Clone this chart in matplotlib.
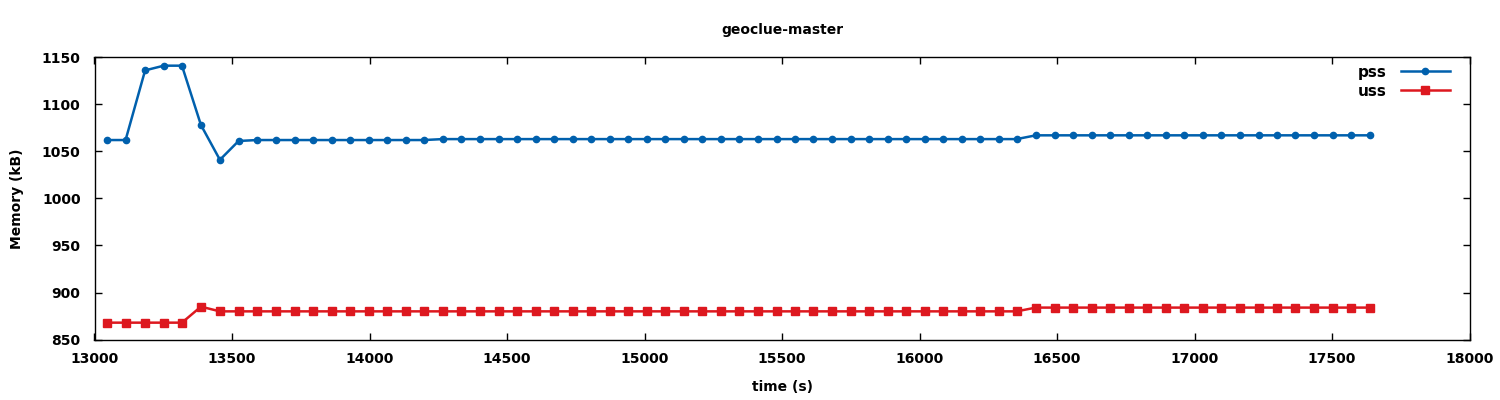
import matplotlib
matplotlib.use("Agg")
import matplotlib.pyplot as plt

# temps des mesures (s)
time_s = [13044, 13113, 13184, 13252, 13318, 13387, 13456, 13524, 13591, 13660,
          13729, 13795, 13864, 13929, 13997, 14064, 14133, 14198, 14266, 14332,
          14401, 14470, 14535, 14604, 14670, 14739, 14804, 14873, 14940, 15008,
          15075, 15143, 15209, 15277, 15344, 15412, 15481, 15547, 15614, 15682,
          15750, 15816, 15885, 15952, 16020, 16085, 16155, 16220, 16288, 16353,
          16423, 16493, 16558, 16627, 16693, 16761, 16827, 16895, 16962, 17030,
          17096, 17164, 17233, 17300, 17365, 17433, 17503, 17568, 17638]

pss = [1062, 1062, 1136, 1141, 1141, 1078, 1041, 1061, 1062, 1062,
       1062, 1062, 1062, 1062, 1062, 1062, 1062, 1062, 1063, 1063,
       1063, 1063, 1063, 1063, 1063, 1063, 1063, 1063, 1063, 1063,
       1063, 1063, 1063, 1063, 1063, 1063, 1063, 1063, 1063, 1063,
       1063, 1063, 1063, 1063, 1063, 1063, 1063, 1063, 1063, 1063,
       1067, 1067, 1067, 1067, 1067, 1067, 1067, 1067, 1067, 1067,
       1067, 1067, 1067, 1067, 1067, 1067, 1067, 1067, 1067]

uss = [868, 868, 868, 868, 868, 885, 880, 880, 880, 880,
       880, 880, 880, 880, 880, 880, 880, 880, 880, 880,
       880, 880, 880, 880, 880, 880, 880, 880, 880, 880,
       880, 880, 880, 880, 880, 880, 880, 880, 880, 880,
       880, 880, 880, 880, 880, 880, 880, 880, 880, 880,
       884, 884, 884, 884, 884, 884, 884, 884, 884, 884,
       884, 884, 884, 884, 884, 884, 884, 884, 884]

plt.rcParams['font.family'] = 'DejaVu Sans'
plt.rcParams['font.weight'] = 'bold'
plt.rcParams['font.size'] = 10

fig = plt.figure(figsize=(15, 4), dpi=100)
ax = fig.add_axes([0.063, 0.151, 0.9167, 0.706])

ax.plot(time_s, pss, color="#0060ad", linewidth=1.8, marker='o', markersize=4.5, label="pss")
ax.plot(time_s, uss, color="#dd181f", linewidth=1.8, marker='s', markersize=5.5, label="uss")

ax.set_xlim(13000, 18000)
ax.set_ylim(850, 1150)
ax.set_xticks(range(13000, 18001, 500))
ax.set_yticks(range(850, 1151, 50))

ax.tick_params(direction='in', length=5, width=1, top=True, right=True, labelsize=10)
ax.tick_params(axis='x', pad=9)
ax.tick_params(axis='y', pad=10)
for s in ax.spines.values():
    s.set_linewidth(1)

ax.set_xlabel("time (s)", fontsize=10, fontweight='bold', labelpad=10)
ax.set_ylabel("Memory (kB)", fontsize=10, fontweight='bold', labelpad=13)
ax.set_title("geoclue-master", fontsize=10, fontweight='bold', pad=17)

ax.legend(loc='upper right', bbox_to_anchor=(0.991, 1.0), frameon=False,
          markerfirst=False, handlelength=3.2, fontsize=11, borderaxespad=0.2,
          labelspacing=0.25, borderpad=0.3, handletextpad=0.9)

plt.savefig("out.png", dpi=100)
